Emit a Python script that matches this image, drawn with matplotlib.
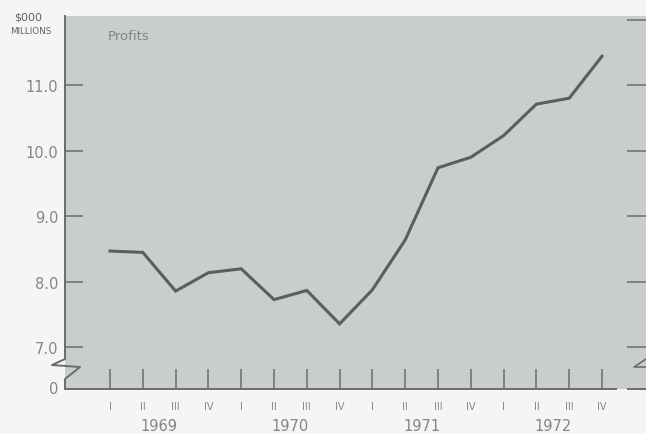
import matplotlib
matplotlib.use('Agg')
import matplotlib.pyplot as plt

# quarterly profits, $000 millions
quarters = ['I', 'II', 'III', 'IV'] * 4
years = ['1969', '1970', '1971', '1972']
profits = [8.47, 8.45, 7.86, 8.14,
           8.20, 7.73, 7.87, 7.36,
           7.88, 8.64, 9.74, 9.90,
           10.23, 10.71, 10.80, 11.44]
yticks = [7, 8, 9, 10, 11]
ytick_labels = ['7.0', '8.0', '9.0', '10.0', '11.0']

W, H = 646, 435
panel = '#c9cdcb'
ink = '#6a6e6b'
label_col = '#858585'

fig = plt.figure(figsize=(W / 100, H / 100), dpi=100, facecolor='#f5f5f3')
# panel spans pixels x 65..646, y 17..390
L, R, T, B = 65, 646, 17, 390
ax = fig.add_axes([L / W, (H - B) / H, (R - L) / W, (B - T) / H])
ax.set_facecolor(panel)
for s in ax.spines.values():
    s.set_visible(False)

x = list(range(len(profits)))
px_per_q = 32.8
ax.set_xlim(-(110 - L) / px_per_q, (R - 110) / px_per_q)
px_per_unit = 65.6
ybot = 7 - (B - 348.5) / px_per_unit
ytop = 7 + (348.5 - T) / px_per_unit
ax.set_ylim(ybot, ytop)

ax.plot(x, profits, color='#5a5f5b', lw=2.2, solid_joinstyle='miter', zorder=3)

# x ticks: short vertical marks standing on the baseline
ax.set_xticks(x)
ax.set_xticklabels(quarters, fontsize=7, color=label_col)
ax.tick_params(axis='x', direction='in', length=14.5, width=1.1, color=ink, pad=9)

# y ticks (left)
ax.set_yticks(yticks)
ax.set_yticklabels(ytick_labels, fontsize=10.5, color=label_col)
ax.tick_params(axis='y', direction='in', length=13, width=1.1, color=ink, pad=5)
ax.text(-0.012, ybot, '0', transform=ax.get_yaxis_transform(), ha='right', va='center',
        fontsize=10.5, color=label_col)

# right-hand ticks
xr0 = ax.get_xlim()[1] - 19 / px_per_q
ax.hlines(yticks + [12], xr0, ax.get_xlim()[1], color=ink, lw=1.1, clip_on=False)

# year labels centred under each year's quarters
for k, yr in enumerate(years):
    ax.text(4 * k + 1.5, -0.097, yr, transform=ax.get_xaxis_transform(),
            ha='center', va='center', fontsize=10.5, color=label_col)

def fx(px):
    return (px - L) / (R - L)

def fy(py):
    return (B - py) / (B - T)

# left axis with break
lx = [65, 65, 52, 80, 65, 65]
ly = [T, 360, 366, 368, 380, B]
ax.plot([fx(v) for v in lx], [fy(v) for v in ly], transform=ax.transAxes,
        color=ink, lw=1.4, clip_on=False)
# bottom axis, broken near the right edge
ax.plot([fx(65), fx(616)], [fy(B), fy(B)], transform=ax.transAxes, color=ink, lw=1.4, clip_on=False)
ax.plot([fx(628), fx(646)], [fy(B), fy(B)], transform=ax.transAxes, color=ink, lw=1.4, clip_on=False)
ax.plot([fx(646), fx(634), fx(646)], [fy(360), fy(368), fy(368)], transform=ax.transAxes,
        color=ink, lw=1.2, clip_on=False)

ax.text(fx(108), fy(37), 'Profits', transform=ax.transAxes, ha='left', va='center',
        fontsize=9.5, color=label_col)
fig.text(28 / W, 1 - 17 / H, '\\$000', ha='center', va='center', fontsize=8, color='#606060')
fig.text(31 / W, 1 - 32 / H, 'MILLIONS', ha='center', va='center', fontsize=6.3, color='#606060')

fig.savefig('out.png', dpi=100, facecolor=fig.get_facecolor())
